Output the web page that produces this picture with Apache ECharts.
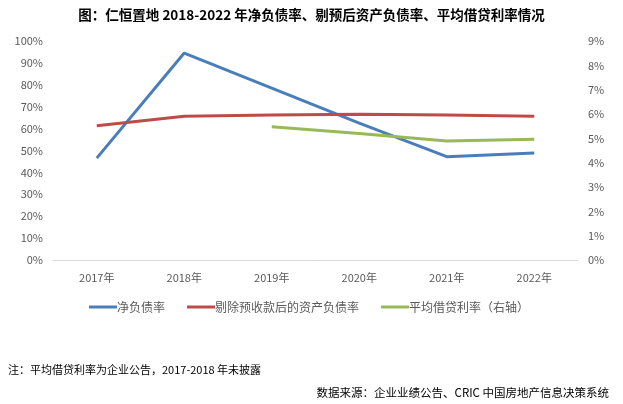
<!DOCTYPE html>
<html><head><meta charset="utf-8">
<script src="https://cdn.jsdelivr.net/npm/echarts@6/dist/echarts.min.js"></script>
<style>html,body{margin:0;padding:0;background:#fff}#c{width:623px;height:404px}</style>
</head><body><div id="c"></div>
<script>
const categories = ['2017年','2018年','2019年','2020年','2021年','2022年'];
const netDebtRatio = [46.5, 94.5, 78.5, 62.5, 47.2, 48.9];
const adjLiabilityRatio = [61.3, 65.6, 66.2, 66.6, 66.2, 65.6];
const avgBorrowRate = [null, null, 5.48, 5.2, 4.89, 4.96];
const leftTicks = [0,10,20,30,40,50,60,70,80,90,100];
const rightTicks = [0,1,2,3,4,5,6,7,8,9];

const chart = echarts.init(document.getElementById('c'));
const font = '"Noto Sans CJK SC", sans-serif';
chart.setOption({
  backgroundColor: '#fff',
  animation: false,
  title: [
    {text: '图：仁恒置地 2018-2022 年净负债率、剔预后资产负债率、平均借贷利率情况', left: 'center', top: 3,
     textStyle: {fontSize: 13.5, fontWeight: 'bold', color: '#000', fontFamily: font}},
    {text: '注：平均借贷利率为企业公告，2017-2018 年未披露', left: 3, top: 359,
     textStyle: {fontSize: 11, fontWeight: 'normal', color: '#000', fontFamily: font}},
    {text: '数据来源：企业业绩公告、CRIC 中国房地产信息决策系统', right: 9, top: 382,
     textStyle: {fontSize: 11.5, fontWeight: 'normal', color: '#000', fontFamily: font}}
  ],
  legend: {
    left: 84, top: 296, itemWidth: 28, itemHeight: 3, itemGap: 22, icon: 'rect',
    textStyle: {fontSize: 12, color: '#595959', fontFamily: font, padding: [0,0,0,-5]},
    data: ['净负债率','剔除预收款后的资产负债率','平均借贷利率（右轴）']
  },
  grid: {left: 53, right: 45, top: 41, bottom: 144},
  xAxis: {
    type: 'category', data: categories, boundaryGap: true,
    axisLine: {lineStyle: {color: '#d9d9d9'}}, axisTick: {show: false},
    axisLabel: {color: '#595959', fontSize: 11, fontFamily: font, margin: 12}
  },
  yAxis: [
    {type: 'value', min: leftTicks[0], max: leftTicks[leftTicks.length-1], interval: 10,
     axisLabel: {formatter: '{value}%', color: '#595959', fontSize: 11, fontFamily: font, margin: 10},
     splitLine: {show: false}, axisLine: {show: false}, axisTick: {show: false}},
    {type: 'value', min: rightTicks[0], max: rightTicks[rightTicks.length-1], interval: 1,
     axisLabel: {formatter: '{value}%', color: '#595959', fontSize: 11, fontFamily: font, margin: 10},
     splitLine: {show: false}, axisLine: {show: false}, axisTick: {show: false}}
  ],
  series: [
    {name: '净负债率', type: 'line', data: netDebtRatio, symbol: 'none',
     lineStyle: {width: 3, color: '#4A7EBB'}, itemStyle: {color: '#4A7EBB'}},
    {name: '剔除预收款后的资产负债率', type: 'line', data: adjLiabilityRatio, symbol: 'none',
     lineStyle: {width: 3, color: '#BE4B48'}, itemStyle: {color: '#BE4B48'}},
    {name: '平均借贷利率（右轴）', type: 'line', yAxisIndex: 1, data: avgBorrowRate, symbol: 'none',
     lineStyle: {width: 3, color: '#98B954'}, itemStyle: {color: '#98B954'}}
  ]
});
</script></body></html>
